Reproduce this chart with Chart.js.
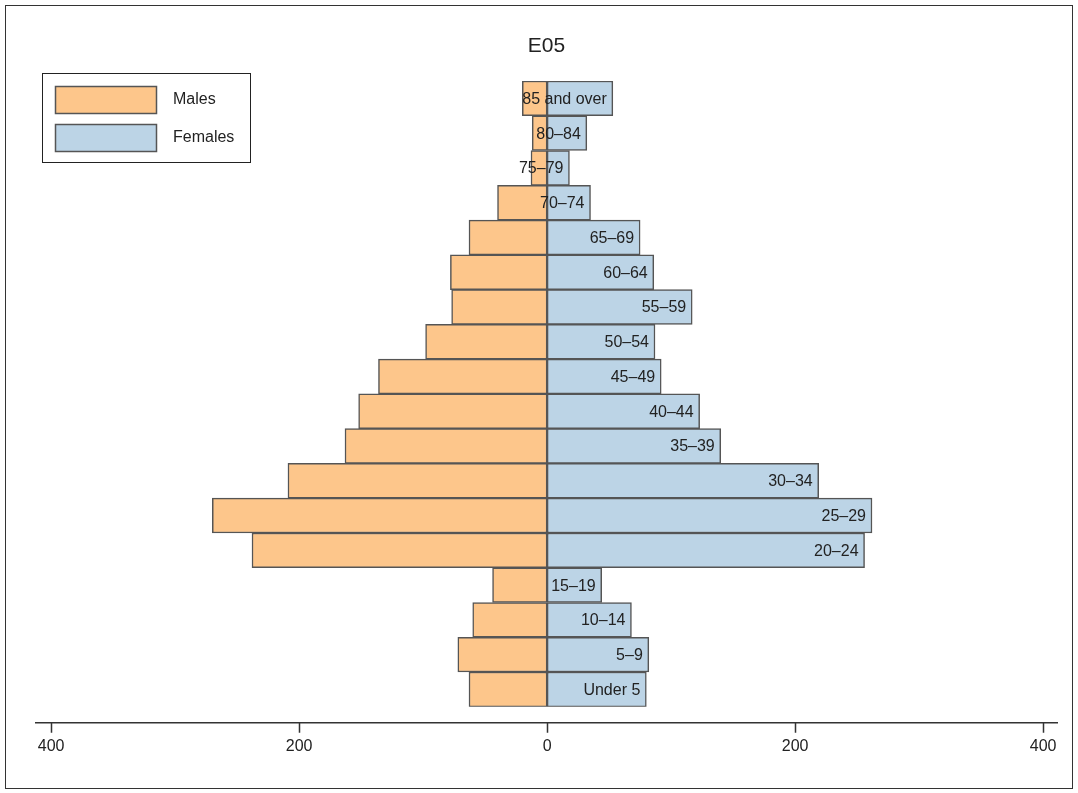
<!DOCTYPE html>
<html>
<head>
<meta charset="utf-8">
<script src="https://cdn.jsdelivr.net/npm/chart.js@4/dist/chart.umd.min.js"></script>
<style>
  html, body { margin: 0; padding: 0; background: #fff; }
  #wrap { width: 1078px; height: 793px; position: relative; }
</style>
</head>
<body>
<div id="wrap"><canvas id="pyramid"></canvas></div>
<script>
const chartTitle = 'E05';
const ageGroups = ['85 and over', '80–84', '75–79', '70–74', '65–69', '60–64', '55–59', '50–54',
    '45–49', '40–44', '35–39', '30–34', '25–29', '20–24', '15–19', '10–14', '5–9', 'Under 5'];
const males = [20, 12, 13, 40, 63, 78, 77, 98, 136, 152, 163, 209, 270, 238, 44, 60, 72, 63];
const females = [53, 32, 18, 35, 75, 86, 117, 87, 92, 123, 140, 219, 262, 256, 44, 68, 82, 80];
const tickValues = [-400, -200, 0, 200, 400];
const seriesNames = ['Males', 'Females'];
const seriesColors = ['#fdc68b', '#bcd4e6'];

const FONT = '"Liberation Sans", Arial, sans-serif';
Chart.defaults.font.family = FONT;

// frame, title, legend box, axis line and age labels
const extras = {
    id: 'extras',
    afterDraw(chart) {
        const ctx = chart.ctx;
        const area = chart.chartArea;
        ctx.save();

        ctx.strokeStyle = '#333';
        ctx.lineWidth = 1;
        ctx.strokeRect(5.5, 5.5, 1067, 783);

        ctx.fillStyle = '#222';
        ctx.font = '21px ' + FONT;
        ctx.textAlign = 'center';
        ctx.textBaseline = 'middle';
        ctx.fillText(chartTitle, (area.left + area.right) / 2, 46);

        // legend
        ctx.fillStyle = '#fff';
        ctx.fillRect(42.5, 73.5, 208, 89);
        ctx.strokeStyle = '#222';
        ctx.strokeRect(42.5, 73.5, 208, 89);
        seriesNames.forEach((name, i) => {
            const y = 86 + i * 38;
            ctx.fillStyle = seriesColors[i];
            ctx.fillRect(55.5, y + 0.5, 101, 27);
            ctx.strokeStyle = '#555';
            ctx.lineWidth = 1.5;
            ctx.strokeRect(55.5, y + 0.5, 101, 27);
            ctx.fillStyle = '#222';
            ctx.font = '16px ' + FONT;
            ctx.textAlign = 'left';
            ctx.fillText(name, 173, y + 14);
        });

        // x axis line + ticks
        const xs = chart.scales.x;
        const axisY = area.bottom + 16;
        ctx.strokeStyle = '#333';
        ctx.lineWidth = 1.5;
        ctx.beginPath();
        ctx.moveTo(area.left, axisY);
        ctx.lineTo(area.right, axisY);
        xs.ticks.forEach(t => {
            const px = Math.round(xs.getPixelForValue(t.value)) + 0.5;
            ctx.moveTo(px, axisY);
            ctx.lineTo(px, axisY + 10);
        });
        ctx.stroke();

        // age group labels at the end of the female bars
        const meta = chart.getDatasetMeta(1);
        ctx.fillStyle = '#222';
        ctx.font = '16px ' + FONT;
        ctx.textAlign = 'right';
        ctx.textBaseline = 'middle';
        meta.data.forEach((bar, i) => {
            ctx.fillText(ageGroups[i], bar.x - 6, bar.y + 1);
        });
        ctx.restore();
    }
};

new Chart(document.getElementById('pyramid'), {
    type: 'bar',
    data: {
        labels: ageGroups,
        datasets: [{
            label: seriesNames[0],
            data: males.map(v => -v),
            backgroundColor: seriesColors[0]
        }, {
            label: seriesNames[1],
            data: females,
            backgroundColor: seriesColors[1]
        }]
    },
    options: {
        indexAxis: 'y',
        responsive: true,
        maintainAspectRatio: false,
        animation: false,
        layout: { padding: { left: 35, right: 20, top: 81, bottom: 37 } },
        datasets: {
            bar: {
                barPercentage: 1,
                categoryPercentage: 1,
                borderColor: '#555',
                borderWidth: 1.5,
                borderSkipped: false
            }
        },
        scales: {
            x: {
                stacked: true,
                min: -413,
                max: 412,
                afterBuildTicks: scale => { scale.ticks = tickValues.map(v => ({ value: v })); },
                grid: { display: false, drawTicks: true, tickLength: 30 },
                border: { display: false },
                ticks: {
                    padding: 0,
                    color: '#222',
                    font: { size: 16 },
                    maxRotation: 0,
                    callback: v => Math.abs(v)
                }
            },
            y: {
                stacked: true,
                display: false
            }
        },
        plugins: {
            legend: { display: false },
            title: { display: false },
            tooltip: { enabled: false }
        }
    },
    plugins: [extras]
});
</script>
</body>
</html>
